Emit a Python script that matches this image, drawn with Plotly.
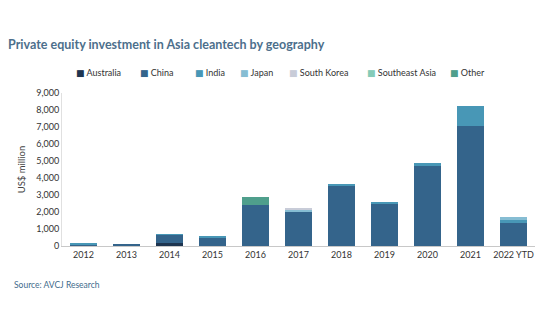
import plotly.graph_objects as go

years = ["2012", "2013", "2014", "2015", "2016", "2017", "2018", "2019", "2020", "2021", "2022 YTD"]
australia = [0, 0, 150, 0, 0, 0, 0, 0, 0, 0, 0]
china = [100, 60, 500, 520, 2410, 2000, 3550, 2510, 4760, 7080, 1340]
india = [20, 0, 50, 30, 0, 0, 100, 90, 100, 1150, 240]
japan = [0, 0, 0, 0, 0, 150, 0, 0, 0, 0, 110]
south_korea = [0, 0, 0, 0, 0, 80, 0, 0, 0, 0, 0]
southeast_asia = [0, 0, 0, 0, 0, 0, 0, 0, 0, 0, 0]
other = [0, 0, 0, 0, 450, 0, 0, 0, 0, 0, 0]

series = [
    ("Australia", australia, "#1e3550"),
    ("China", china, "#34648b"),
    ("India", india, "#4897b6"),
    ("Japan", japan, "#86bdd3"),
    ("South Korea", south_korea, "#c8ccd8"),
    ("Southeast Asia", southeast_asia, "#84cbb8"),
    ("Other", other, "#4f9f8c"),
]
# left edge (px) of each legend key
legend_x = [74, 138, 193, 238, 287, 365, 448]

W, H = 540, 334
ML, MR, MT, MB = 62, 5, 93, 88
PW, PH = W - ML - MR, H - MT - MB

font = "Lato, 'Open Sans', sans-serif"
fig = go.Figure()
for name, vals, col in series:
    fig.add_trace(go.Bar(x=years, y=vals, name=name, showlegend=False,
                         marker=dict(color=col, line=dict(width=0))))

annotations = []
for (name, vals, col), lx in zip(series, legend_x):
    annotations.append(dict(
        text=f"<span style='color:{col};font-family:DejaVu Sans;font-size:9px'>■</span> {name}",
        xref="paper", yref="paper", x=(lx - ML) / PW, xanchor="left",
        y=(H - MB - 72) / PH, yanchor="middle", showarrow=False,
        font=dict(size=9, color="#333333", family=font)))

annotations.append(dict(text="Source: AVCJ Research", xref="paper", yref="paper",
                        x=(12 - ML) / PW, xanchor="left", y=(H - MB - 285) / PH, yanchor="middle",
                        showarrow=False, font=dict(size=8.5, color="#3f6b8c", family=font)))

fig.update_layout(
    barmode="stack",
    bargap=0.35,
    showlegend=False,
    width=W, height=H,
    margin=dict(l=ML, r=MR, t=MT, b=MB),
    paper_bgcolor="white", plot_bgcolor="white",
    font=dict(family=font, size=9, color="#333333"),
    title=dict(text="<b>Private equity investment in Asia cleantech by geography</b>",
               x=8/W, xanchor="left", y=1-45/H, yanchor="middle",
               font=dict(size=12.5, color="#4d6f8c", family=font)),
    xaxis=dict(showline=True, linecolor="#c8c8c8", linewidth=1, ticks="",
               tickfont=dict(size=9, color="#333333")),
    yaxis=dict(range=[0, 9000], dtick=1000, tickformat=",", showgrid=False,
               showline=True, linecolor="#e0e0e0", linewidth=1, ticks="",
               zeroline=False,
               title=dict(text="US$ million", font=dict(size=9.5, color="#444444"), standoff=8),
               tickfont=dict(size=9, color="#333333")),
    annotations=annotations,
)

fig.write_html("out.html")
